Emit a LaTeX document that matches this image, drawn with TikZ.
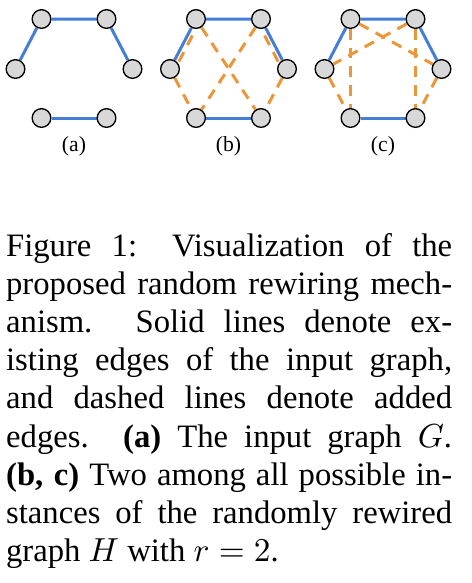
\documentclass[tikz,border=0pt]{standalone}
\usepackage{fontspec}
\setmainfont{Liberation Serif}
\usepackage{xcolor}
\definecolor{edgeblue}{RGB}{68, 126, 214}
\definecolor{edgeorange}{RGB}{236, 150, 58}
\definecolor{vertexgray}{RGB}{216, 216, 216}
\usepackage{tikz}
\usetikzlibrary{backgrounds}

\begin{document}
\begin{tikzpicture}[
    x=0.3pt, y=-0.3pt,
    vertex/.style={circle, draw=black, line width=0.4pt, fill=vertexgray, minimum size=5.6pt, inner sep=0pt},
    existing/.style={draw=edgeblue, line width=0.9pt},
    added/.style={draw=edgeorange, line width=0.9pt, dash pattern=on 3.2pt off 2.4pt},
    sublabel/.style={font=\fontsize{6.5pt}{7.8pt}\selectfont, anchor=base, inner sep=0pt},
    caption/.style={text width=133.8pt, align=justify, inner sep=0pt, anchor=base west, font=\fontsize{9.8pt}{11.46pt}\selectfont}
]
\useasboundingbox (0,0) rectangle (472,583);

% Panel (a): input graph
\node[vertex] (a-tl) at (41.5,19) {};
\node[vertex] (a-tr) at (106.5,19) {};
\node[vertex] (a-l) at (15.5,69) {};
\node[vertex] (a-r) at (132.5,69) {};
\node[vertex] (a-bl) at (41.5,118) {};
\node[vertex] (a-br) at (106.5,118) {};
\node[sublabel] (a-lab) at (74,151) {(a)};

% Panel (b): first rewired instance
\node[vertex] (b-tl) at (196,19) {};
\node[vertex] (b-tr) at (261,19) {};
\node[vertex] (b-l) at (170,69) {};
\node[vertex] (b-r) at (287,69) {};
\node[vertex] (b-bl) at (196,118) {};
\node[vertex] (b-br) at (261,118) {};
\node[sublabel] (b-lab) at (228.5,151) {(b)};

% Panel (c): second rewired instance
\node[vertex] (c-tl) at (350.5,19) {};
\node[vertex] (c-tr) at (415.5,19) {};
\node[vertex] (c-l) at (324.5,69) {};
\node[vertex] (c-r) at (441.5,69) {};
\node[vertex] (c-bl) at (350.5,118) {};
\node[vertex] (c-br) at (415.5,118) {};
\node[sublabel] (c-lab) at (383,151) {(c)};

% Edges
\begin{scope}[on background layer]
\draw[existing] (a-l) -- (a-tl) -- (a-tr) -- (a-r);
\draw[existing] (a-bl) -- (a-br);

\draw[existing] (b-l) -- (b-tl) -- (b-tr) -- (b-r);
\draw[existing] (b-bl) -- (b-br);
\draw[added] ([xshift=1.5pt]b-tl.center) -- ([xshift=1.5pt]b-l.center);
\draw[added] ([xshift=-1.5pt]b-tr.center) -- ([xshift=-1.5pt]b-r.center);
\draw[added] (b-tl) -- (b-br);
\draw[added] (b-tr) -- (b-bl);
\draw[added] (b-l) -- (b-bl);
\draw[added] (b-r) -- (b-br);

\draw[existing] (c-l) -- (c-tl) -- (c-tr) -- (c-r);
\draw[existing] (c-bl) -- (c-br);
\draw[added] (c-tl) -- (c-bl);
\draw[added] (c-tr) -- (c-br);
\draw[added] (c-tl) -- (c-r);
\draw[added] (c-tr) -- (c-l);
\draw[added] (c-l) -- (c-bl);
\draw[added] (c-r) -- (c-br);
\end{scope}

% Caption
\node[caption] (cap) at (5.5,256) {Figure 1: Visualization of the\linebreak
proposed random rewiring mech-\linebreak
anism. Solid lines denote ex-\linebreak
isting edges of the input graph,\linebreak
and dashed lines denote added\linebreak
edges. \textbf{(a)} The input graph $G$.\linebreak
\textbf{(b, c)} Two among all possible in-\linebreak
stances of the randomly rewired\linebreak
graph $H$ with $r=2$.};

\end{tikzpicture}
\end{document}
